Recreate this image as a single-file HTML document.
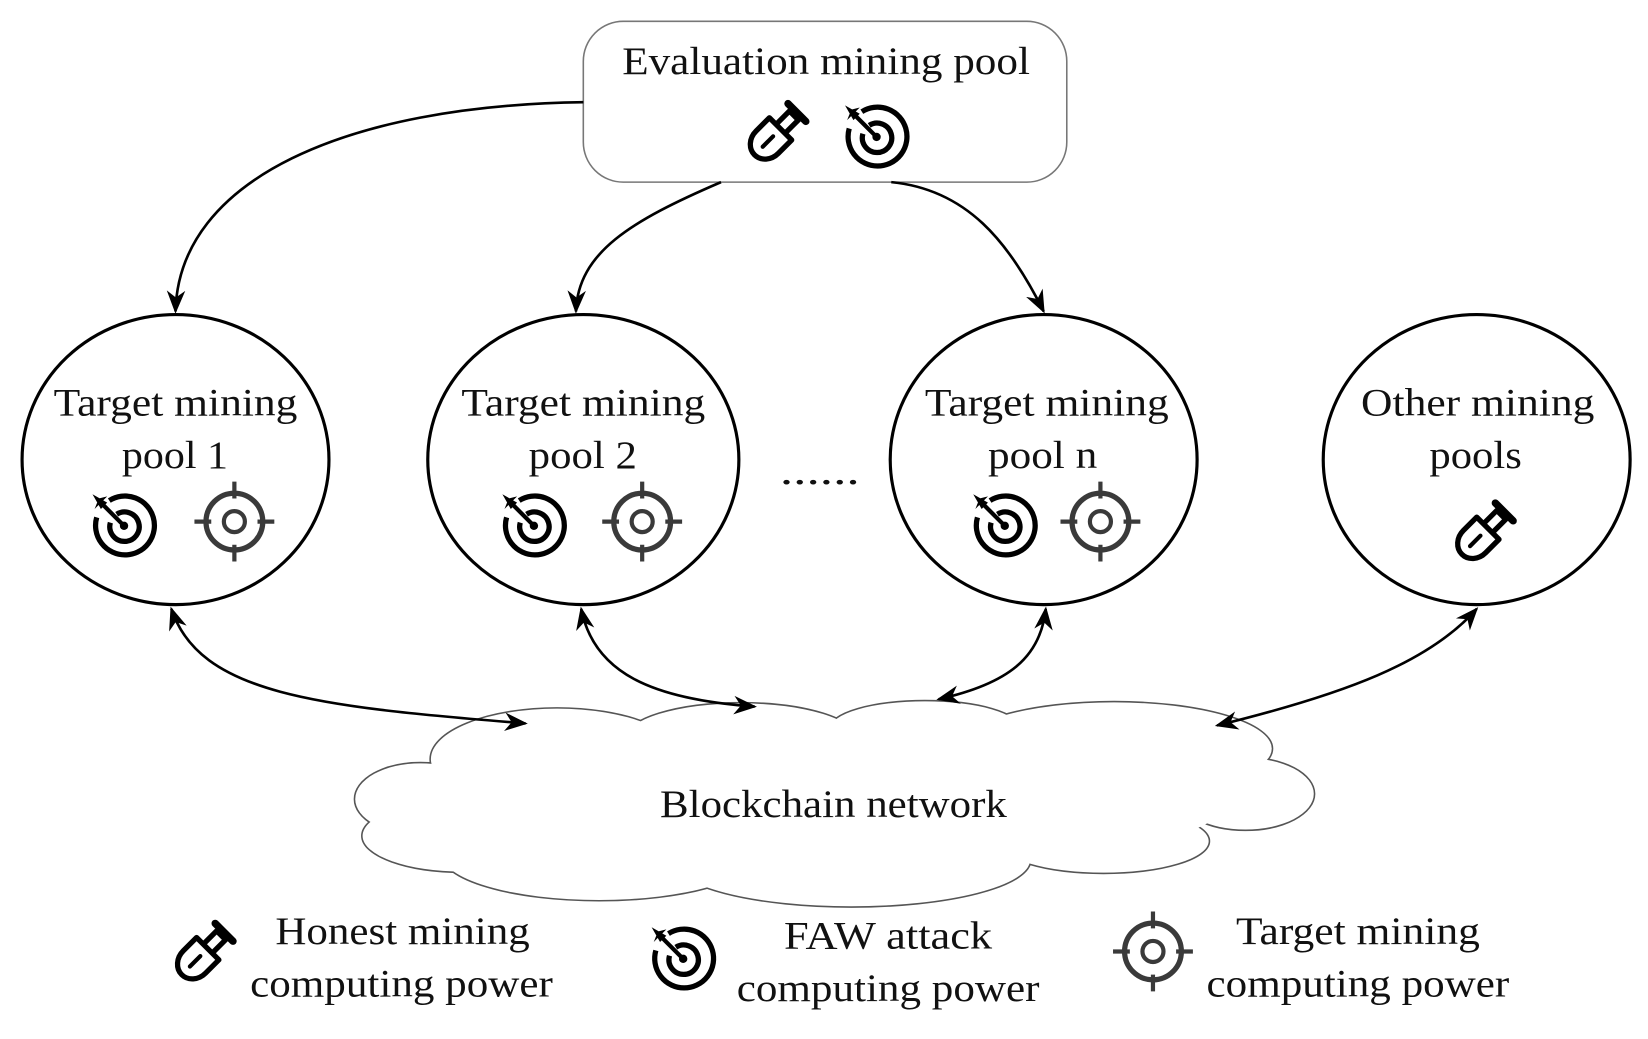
<!DOCTYPE html>
<html><head><meta charset="utf-8"><style>
html,body{margin:0;padding:0;background:#fff}
svg{display:block}
text{font-family:"Liberation Serif",serif;fill:#111}
</style></head><body>
<svg width="1648" height="1039" viewBox="0 0 1568 988" xmlns="http://www.w3.org/2000/svg">
<defs>
<marker id="ah2" viewBox="0 0 10 10" refX="9" refY="5" markerWidth="22" markerHeight="22" orient="auto-start-reverse" markerUnits="userSpaceOnUse">
<path d="M0,1 L10,5 L0,9 L3,5 z" fill="#000"/></marker>
<g id="shovel">
<g transform="rotate(45)">
<path d="M-15,-8 L-15,10 A15,17 0 0 0 15,10 L15,-8 Z" fill="none" stroke="#000" stroke-width="5" stroke-linejoin="round"/>
<path d="M-6,-8 L-6,-26 L6,-26 L6,-8" fill="none" stroke="#000" stroke-width="5" stroke-linejoin="round"/>
<path d="M-12,-30 L12,-30" stroke="#000" stroke-width="7" stroke-linecap="round"/>
<path d="M0,2 L0,16" stroke="#000" stroke-width="4" stroke-linecap="round"/>
</g></g>
<g id="dart">
<path d="M-14,-24 A28,28 0 1 1 -26,-8" fill="none" stroke="#000" stroke-width="5"/>
<path d="M-7,-11 A14,14 0 1 1 -13,-3" fill="none" stroke="#000" stroke-width="5"/>
<circle cx="0" cy="0" r="4" fill="#000"/>
<path d="M0,0 L-20,-20" stroke="#000" stroke-width="4"/>
<path d="M-16,-28 L-28,-16 L-24,-26 Z M-30,-30 L-16,-22 L-22,-16 Z" fill="#000"/>
</g>
<g id="cross">
<circle r="27" fill="none" stroke="#3a3a3a" stroke-width="5"/>
<circle r="10" fill="none" stroke="#3a3a3a" stroke-width="4"/>
<path d="M0,-38 L0,-22 M0,22 L0,38 M-38,0 L-22,0 M22,0 L38,0" stroke="#3a3a3a" stroke-width="4"/>
</g>
</defs>

<rect x="555" y="20" width="460" height="153" rx="38" fill="#fff" stroke="#777" stroke-width="1.5"/>
<text x="592" y="70" font-size="37" textLength="388" lengthAdjust="spacingAndGlyphs">Evaluation mining pool</text>
<use href="#shovel" x="737" y="128"/>
<use href="#dart" x="834" y="130"/>

<path d="M555,97 C330,100 170,170 167,296" fill="none" stroke="#000" stroke-width="2.5" marker-end="url(#ah2)"/>
<path d="M686,173 C600,210 550,240 548,296" fill="none" stroke="#000" stroke-width="2.5" marker-end="url(#ah2)"/>
<path d="M848,173 C920,180 960,230 993,296" fill="none" stroke="#000" stroke-width="2.5" marker-end="url(#ah2)"/>

<g fill="#fff" stroke="#000" stroke-width="3">
<ellipse cx="167" cy="437" rx="146" ry="138"/>
<ellipse cx="555" cy="437" rx="148" ry="138"/>
<ellipse cx="993" cy="437" rx="146" ry="138"/>
<ellipse cx="1405" cy="437" rx="146" ry="138"/>
</g>
<g font-size="37">
<text x="51" y="395" textLength="232" lengthAdjust="spacingAndGlyphs">Target mining</text><text x="116" y="445" textLength="101" lengthAdjust="spacingAndGlyphs">pool 1</text>
<text x="439" y="395" textLength="232" lengthAdjust="spacingAndGlyphs">Target mining</text><text x="503" y="445" textLength="103" lengthAdjust="spacingAndGlyphs">pool 2</text>
<text x="880" y="395" textLength="232" lengthAdjust="spacingAndGlyphs">Target mining</text><text x="940" y="445" textLength="104" lengthAdjust="spacingAndGlyphs">pool n</text>
<text x="1295" y="395" textLength="222" lengthAdjust="spacingAndGlyphs">Other mining</text><text x="1360" y="445" textLength="88" lengthAdjust="spacingAndGlyphs">pools</text>
<text x="742" y="460" textLength="76" lengthAdjust="spacingAndGlyphs">......</text>
</g>
<use href="#dart" x="118" y="500"/><use href="#cross" x="223" y="496"/>
<use href="#dart" x="508" y="500"/><use href="#cross" x="611" y="496"/>
<use href="#dart" x="956" y="500"/><use href="#cross" x="1047" y="496"/>
<use href="#shovel" x="1410" y="508"/>

<g stroke="#555" stroke-width="3" fill="#fff">
<ellipse cx="400" cy="760" rx="62" ry="34"/>
<ellipse cx="530" cy="722" rx="120" ry="48"/>
<ellipse cx="705" cy="703" rx="110" ry="34"/>
<ellipse cx="880" cy="693" rx="90" ry="26"/>
<ellipse cx="1060" cy="712" rx="150" ry="44"/>
<ellipse cx="1185" cy="755" rx="65" ry="34"/>
<ellipse cx="1050" cy="800" rx="100" ry="30"/>
<ellipse cx="810" cy="818" rx="170" ry="44"/>
<ellipse cx="570" cy="812" rx="150" ry="44"/>
<ellipse cx="440" cy="795" rx="95" ry="34"/>
</g>
<g fill="#fff">
<ellipse cx="400" cy="760" rx="62" ry="34"/>
<ellipse cx="530" cy="722" rx="120" ry="48"/>
<ellipse cx="705" cy="703" rx="110" ry="34"/>
<ellipse cx="880" cy="693" rx="90" ry="26"/>
<ellipse cx="1060" cy="712" rx="150" ry="44"/>
<ellipse cx="1185" cy="755" rx="65" ry="34"/>
<ellipse cx="1050" cy="800" rx="100" ry="30"/>
<ellipse cx="810" cy="818" rx="170" ry="44"/>
<ellipse cx="570" cy="812" rx="150" ry="44"/>
<ellipse cx="440" cy="795" rx="95" ry="34"/>
<ellipse cx="790" cy="760" rx="380" ry="70"/>
</g>
<text x="628" y="777" font-size="37" textLength="330" lengthAdjust="spacingAndGlyphs">Blockchain network</text>

<g fill="none" stroke="#000" stroke-width="2.5">
<path d="M163,579 C190,660 300,672 500,688" marker-start="url(#ah2)" marker-end="url(#ah2)"/>
<path d="M553,579 C565,640 620,665 718,672" marker-start="url(#ah2)" marker-end="url(#ah2)"/>
<path d="M995,579 C990,625 960,650 893,665" marker-start="url(#ah2)" marker-end="url(#ah2)"/>
<path d="M1405,579 C1360,630 1280,660 1158,690" marker-start="url(#ah2)" marker-end="url(#ah2)"/>
</g>

<use href="#shovel" x="192" y="908"/>
<use href="#dart" x="650" y="912"/>
<use href="#cross" x="1097" y="905"/>
<g font-size="37">
<text x="262" y="898" textLength="242" lengthAdjust="spacingAndGlyphs">Honest mining</text><text x="238" y="948" textLength="288" lengthAdjust="spacingAndGlyphs">computing power</text>
<text x="746" y="902" textLength="198" lengthAdjust="spacingAndGlyphs">FAW attack</text><text x="701" y="952" textLength="288" lengthAdjust="spacingAndGlyphs">computing power</text>
<text x="1176" y="898" textLength="232" lengthAdjust="spacingAndGlyphs">Target mining</text><text x="1148" y="948" textLength="288" lengthAdjust="spacingAndGlyphs">computing power</text>
</g>
</svg>
</body></html>
